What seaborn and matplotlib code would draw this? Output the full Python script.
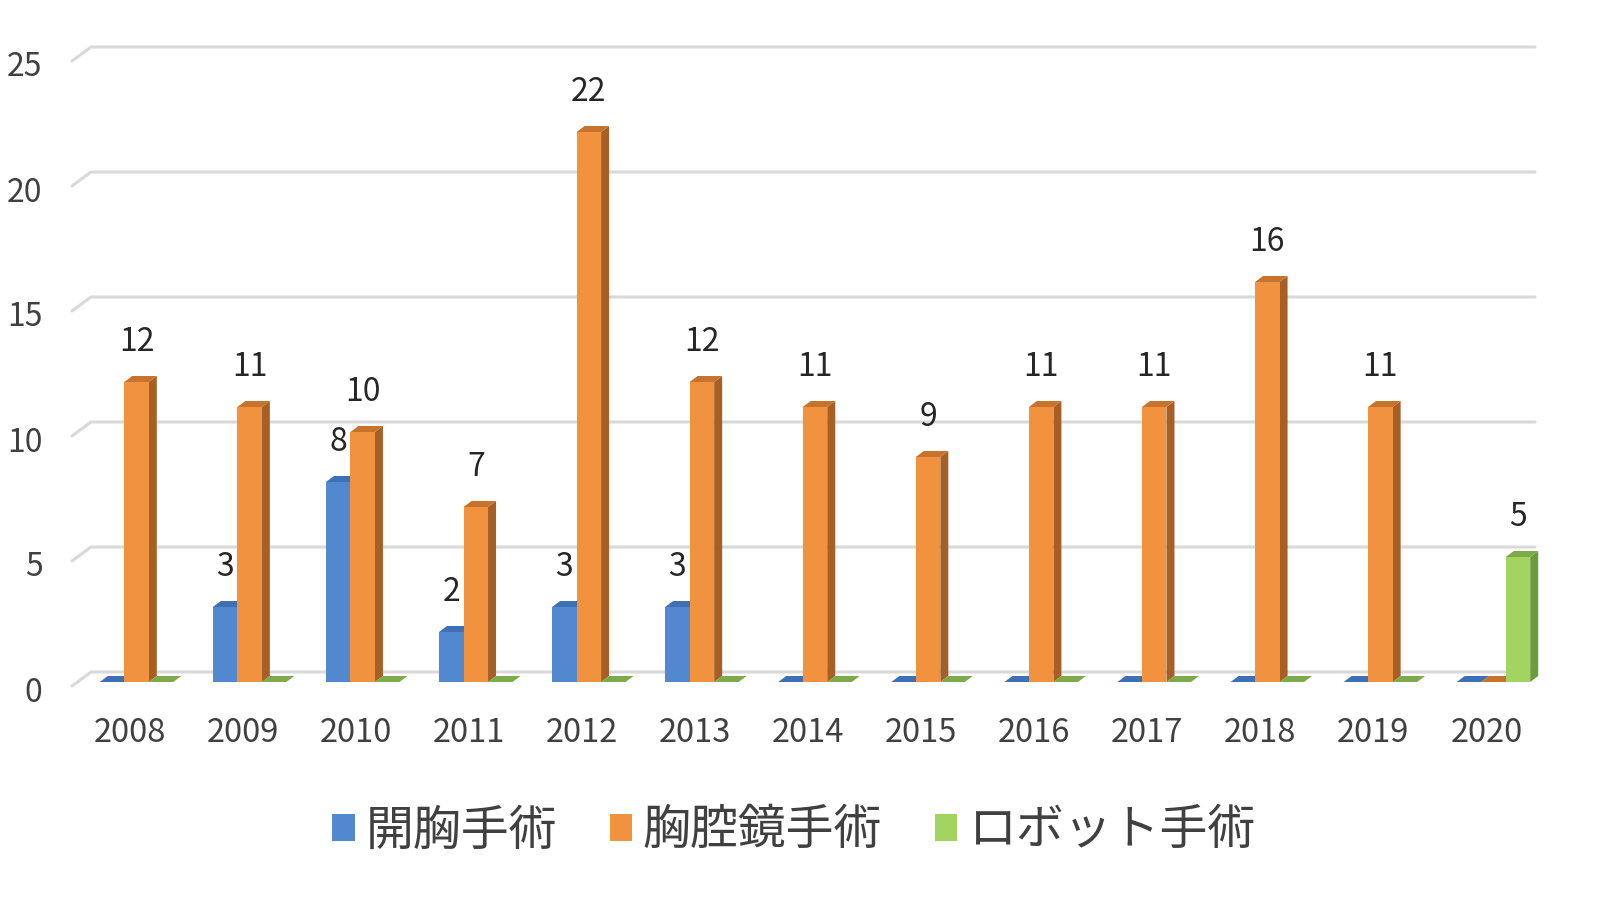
import numpy as np
import pandas as pd
import matplotlib.pyplot as plt
import seaborn as sns
from matplotlib.patches import Polygon
from matplotlib.transforms import ScaledTranslation

years = ["2008", "2009", "2010", "2011", "2012", "2013", "2014",
         "2015", "2016", "2017", "2018", "2019", "2020"]
kinds = ["開胸手術", "胸腔鏡手術", "ロボット手術"]
open_surgery = [0, 3, 8, 2, 3, 3, 0, 0, 0, 0, 0, 0, 0]
vats = [12, 11, 10, 7, 22, 12, 11, 9, 11, 11, 16, 11, 0]
robot = [0, 0, 0, 0, 0, 0, 0, 0, 0, 0, 0, 0, 5]

front = ["#5288D0", "#F0923E", "#A2D462"]
side = ["#3A64A0", "#A65F25", "#6E9A3E"]
top = ["#3F6FB5", "#C7722D", "#7DAA4A"]

df = pd.DataFrame({
    "year": years * 3,
    "kind": [k for k in kinds for _ in years],
    "count": open_surgery + vats + robot,
})

sns.set_style("white")
plt.rcParams["font.family"] = ["Noto Sans CJK JP", "DejaVu Sans"]

fig = plt.figure(figsize=(16, 9), dpi=100)
ax = fig.add_axes([80 / 1600, 1 - 682 / 900, 1470 / 1600, 625 / 900])

sns.barplot(data=df, x="year", y="count", hue="kind", palette=front,
            width=0.65, saturation=1, ax=ax, linewidth=0)

ax.set_xlim(-0.5, len(years) - 0.5)
ax.set_ylim(0, 25)
ax.set_yticks(range(0, 26, 5))
ax.set_xlabel("")
ax.set_ylabel("")
sns.despine(ax=ax, left=True, bottom=True, top=True, right=True)
ax.tick_params(axis="y", length=0, pad=27, labelsize=23, labelcolor="#404040")
ax.tick_params(axis="x", length=0, pad=25, labelsize=23.5, labelcolor="#404040")
for lab in ax.get_yticklabels():
    lab.set_transform(lab.get_transform() + ScaledTranslation(0, -0.07, fig.dpi_scale_trans))
for lab in ax.get_xticklabels():
    lab.set_transform(lab.get_transform() + ScaledTranslation(-0.07, 0, fig.dpi_scale_trans))

W, H = fig.get_size_inches() * fig.dpi
def fig_xy(px, py):
    return (px / W, py / H)

# back-wall gridlines with a short slant to the front
bb = ax.get_window_extent()
for v in range(0, 26, 5):
    py = ax.transData.transform((0, v))[1]
    xs = [bb.x0 - 8, bb.x0 + 11, bb.x1 - 15]
    ys = [py - 4, py + 10, py + 10]
    pts = [fig_xy(x, y) for x, y in zip(xs, ys)]
    ax.add_line(plt.Line2D([p[0] for p in pts], [p[1] for p in pts],
                           transform=fig.transFigure, color="#D9D9D9",
                           lw=2.2, zorder=0.5, clip_on=False))

# 3D faces
dx, dy = 8, 6
bars = []
for ci, cont in enumerate(ax.containers):
    for p in cont.patches:
        bars.append((p.get_x(), ci, p))
bars.sort(key=lambda t: t[0])
for i, (_, ci, p) in enumerate(bars):
    z = 2 + i * 0.01
    p.set_zorder(z + 0.005)
    x0, y0 = ax.transData.transform((p.get_x(), 0))
    x1, y1 = ax.transData.transform((p.get_x() + p.get_width(), p.get_height()))
    side_pts = [fig_xy(x1, y0), fig_xy(x1 + dx, y0 + dy),
                fig_xy(x1 + dx, y1 + dy), fig_xy(x1, y1)]
    top_pts = [fig_xy(x0, y1), fig_xy(x0 + dx, y1 + dy),
               fig_xy(x1 + dx, y1 + dy), fig_xy(x1, y1)]
    if p.get_height() > 0:
        ax.add_patch(Polygon(side_pts, closed=True, transform=fig.transFigure,
                             facecolor=side[ci], edgecolor="none", zorder=z,
                             clip_on=False))
    ax.add_patch(Polygon(top_pts, closed=True, transform=fig.transFigure,
                         facecolor=top[ci], edgecolor="none", zorder=z + 0.008,
                         clip_on=False))

for cont in ax.containers:
    labels = [str(int(v)) if v > 0 else "" for v in cont.datavalues]
    ax.bar_label(cont, labels=labels, padding=17, fontsize=23, color="#262626")

handles, texts = ax.get_legend_handles_labels()
ax.legend(handles, texts, loc="center", bbox_to_anchor=(0.496, 0.077),
          bbox_transform=fig.transFigure, ncol=3, frameon=False,
          fontsize=34.5, labelcolor="#404040", handlelength=0.47,
          handleheight=0.47, handletextpad=0.22, columnspacing=1.1)

fig.savefig("out.png", dpi=100)
